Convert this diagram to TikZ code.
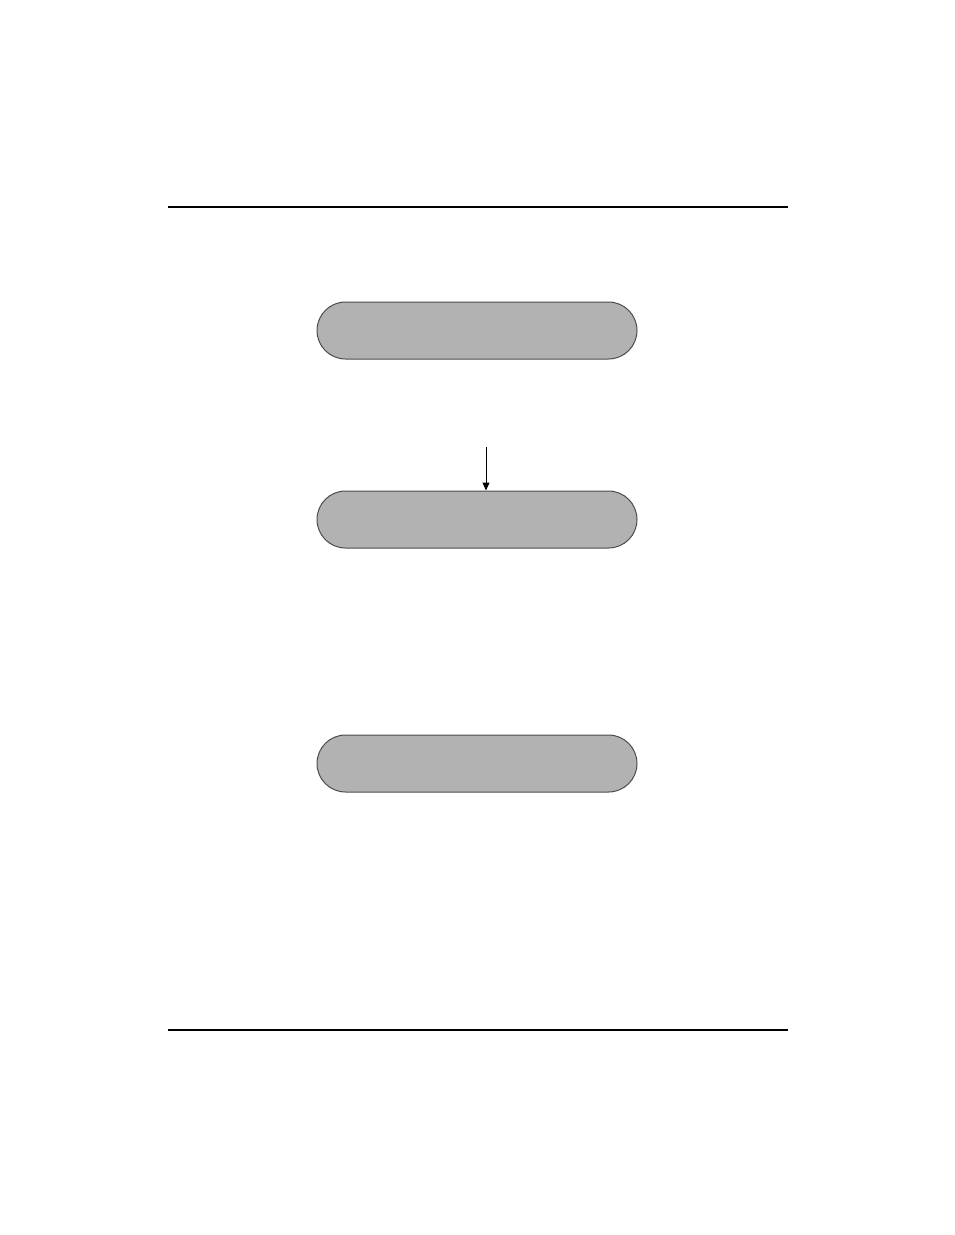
\documentclass[tikz,border=0pt]{standalone}
\usepackage{tikz}
\usetikzlibrary{positioning,shapes.misc,arrows.meta}

\begin{document}
\begin{tikzpicture}[%
  x=1pt,
  y=-1pt,
  >={Triangle[width=7pt,length=8pt]},
  node distance=131pt,
  stage/.style={
    rounded rectangle,
    draw=black!70,
    fill=black!30,
    line width=1pt,
    minimum width=320pt,
    minimum height=57pt,
    inner sep=0pt,},
  rule/.style={
    line width=2pt,}
  ]
  \useasboundingbox (0,0) rectangle (954,1235);
  %% Rules
  \draw[rule] (168,207) -- (788,207);
  \draw[rule] (168,1030) -- (788,1030);
  %% Nodes
  \node[stage] (S1) at (477,330.5) {};
  \node[stage, below = 131pt of S1] (S2) {};
  \node[stage, below = 186pt of S2] (S3) {};
  \coordinate (in) at (486,447);
  %% Edges
  \draw[->, line width=1pt] (in) to (in |- S2.north);
\end{tikzpicture}
\end{document}
